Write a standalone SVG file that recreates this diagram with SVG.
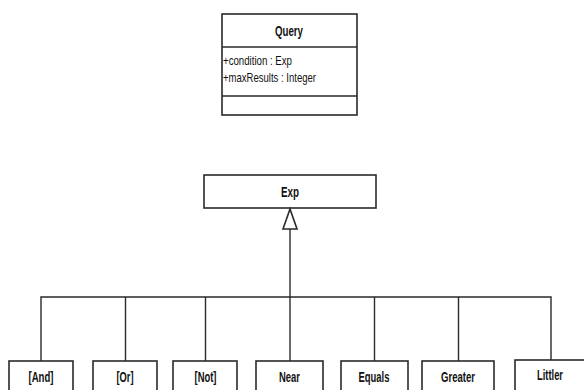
<svg xmlns="http://www.w3.org/2000/svg" width="584" height="390" viewBox="0 0 584 390">
<style>
.box{fill:#fff;stroke:#2a2a2a;stroke-width:1.6}
.ln{fill:none;stroke:#2a2a2a;stroke-width:1.4}
text{font-family:"Liberation Sans","Arial",sans-serif;font-size:13.5px;fill:#111}
.t{font-weight:bold;text-anchor:middle;font-size:14.5px}
.c{text-anchor:middle;font-weight:bold;font-size:15px}
</style>
<rect width="584" height="390" fill="#fff"/>
<g id="Query">
<rect class="box" x="222" y="14" width="135" height="101"/>
<line class="ln" x1="222" y1="47" x2="357" y2="47"/>
<line class="ln" x1="222" y1="96" x2="357" y2="96"/>
<text class="t" x="289" y="35.5" textLength="28" lengthAdjust="spacingAndGlyphs">Query</text>
<text x="223" y="64.5" textLength="69" lengthAdjust="spacingAndGlyphs">+condition : Exp</text>
<text x="223" y="81.5" textLength="93" lengthAdjust="spacingAndGlyphs">+maxResults : Integer</text>
</g>
<g id="Exp">
<rect class="box" x="204" y="175" width="172" height="33"/>
<text class="t" x="290" y="196.5" textLength="18" lengthAdjust="spacingAndGlyphs">Exp</text>
</g>
<g id="connectors">
<polyline class="ln" points="41,361 41,297 551,297 551,360"/>
<line class="ln" x1="290" y1="229" x2="290" y2="361"/>
<line class="ln" x1="125.5" y1="297" x2="125.5" y2="361"/>
<line class="ln" x1="205.5" y1="297" x2="205.5" y2="361"/>
<line class="ln" x1="374.5" y1="297" x2="374.5" y2="361"/>
<line class="ln" x1="458.5" y1="297" x2="458.5" y2="361"/>
<polygon points="290,209 283,229 297,229" fill="#fff" stroke="#2a2a2a" stroke-width="1.6"/>
</g>
<g id="And"><rect class="box" x="9" y="361" width="64" height="40"/><text class="c" x="41" y="381.5" textLength="25" lengthAdjust="spacingAndGlyphs">[And]</text></g>
<g id="Or"><rect class="box" x="93" y="361" width="64" height="40"/><text class="c" x="125" y="381.5" textLength="17" lengthAdjust="spacingAndGlyphs">[Or]</text></g>
<g id="Not"><rect class="box" x="173" y="361" width="64" height="40"/><text class="c" x="205.5" y="381.5" textLength="22" lengthAdjust="spacingAndGlyphs">[Not]</text></g>
<g id="Near"><rect class="box" x="256" y="361" width="67" height="40"/><text class="c" x="289.5" y="381.5" textLength="21" lengthAdjust="spacingAndGlyphs">Near</text></g>
<g id="Equals"><rect class="box" x="341" y="361" width="67" height="40"/><text class="c" x="374" y="381.5" textLength="31" lengthAdjust="spacingAndGlyphs">Equals</text></g>
<g id="Greater"><rect class="box" x="422" y="361" width="72" height="40"/><text class="c" x="458" y="381.5" textLength="34" lengthAdjust="spacingAndGlyphs">Greater</text></g>
<g id="Littler"><rect class="box" x="515" y="360" width="80" height="40"/><text class="c" x="550" y="379.5" textLength="26" lengthAdjust="spacingAndGlyphs">Littler</text></g>
</svg>
